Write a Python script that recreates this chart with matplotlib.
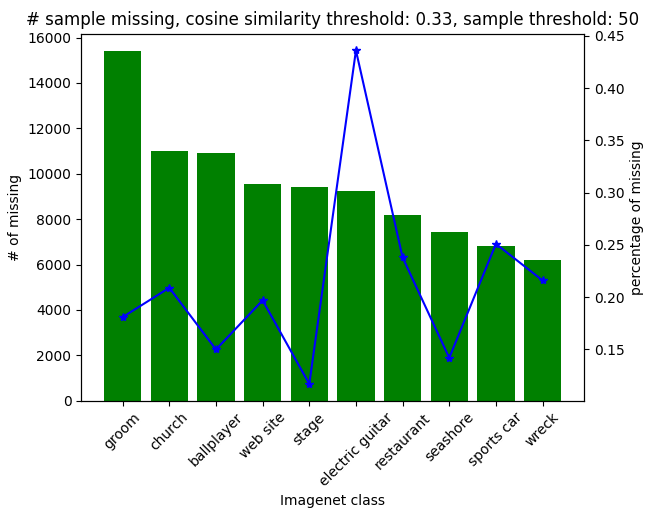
import matplotlib
matplotlib.use("Agg")
import matplotlib.pyplot as plt

classes = ["groom", "church", "ballplayer", "web site", "stage", "electric guitar",
           "restaurant", "seashore", "sports car", "wreck"]
missing = [15400, 11000, 10900, 9550, 9400, 9250, 8200, 7450, 6800, 6200]
pct_missing = [0.181, 0.209, 0.150, 0.197, 0.117, 0.436, 0.238, 0.142, 0.251, 0.216]

fig, ax = plt.subplots(figsize=(6.49, 5.19), dpi=100)
ax.bar(classes, missing, color="green")
ax.set_xlabel("Imagenet class")
ax.set_ylabel("# of missing")
ax.tick_params(axis="x", rotation=45)
ax2 = ax.twinx()
ax2.plot(classes, pct_missing, "b*-")
ax2.set_ylabel("percentage of missing")
ax.set_title("# sample missing, cosine similarity threshold: 0.33, sample threshold: 50")
fig.subplots_adjust(left=0.125, right=0.9, top=0.935, bottom=0.228)
fig.savefig("out.png")
